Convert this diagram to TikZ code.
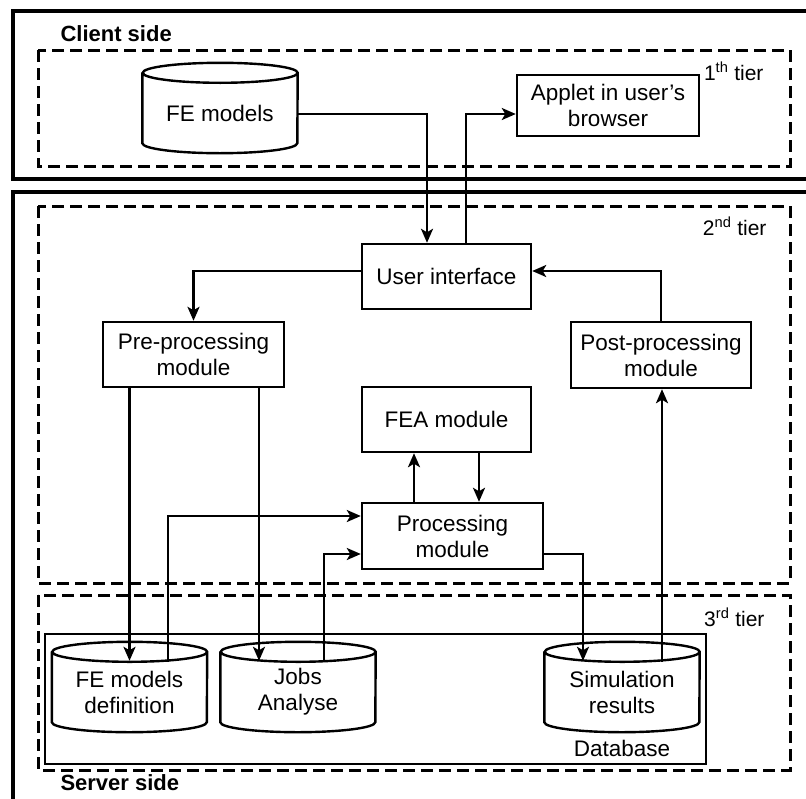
\documentclass[tikz,border=0pt]{standalone}
\usepackage{fontspec}
\setmainfont{Liberation Sans}
\usetikzlibrary{arrows.meta}
\usetikzlibrary{positioning}
\usetikzlibrary{calc}
\tikzset{
  module/.style={draw, line width=2.4pt, align=center, inner sep=0pt},
  store/.style={inner sep=0pt, minimum width=155pt, minimum height=90pt, align=center},
  sidebox/.style={draw, line width=4.5pt},
  tierbox/.style={draw, line width=3pt, dash pattern=on 12pt off 6pt},
  side/.style={font=\fontsize{22}{26}\bfseries\selectfont},
  tier/.style={font=\fontsize{21}{26}\selectfont},
  flow/.style={->, line width=2.6pt}
}
% outline of a database drum round a store node (text sits 5pt low)
\newcommand{\drum}[1]{%
  \draw[line width=2.4pt] ([yshift=-5pt]#1.north west) -- ([yshift=15pt]#1.south west)
    arc[start angle=180, end angle=360, x radius=77.5pt, y radius=10pt]
    -- ([yshift=-5pt]#1.north east)
    arc[start angle=0, end angle=360, x radius=77.5pt, y radius=10pt];}

\begin{document}
\begin{tikzpicture}[x=1pt, y=1pt, >={Stealth[length=14pt, width=12pt, inset=3.5pt]},
    every node/.style={font=\fontsize{22.5}{26}\selectfont}]
        \useasboundingbox (0,0) rectangle (806,-798);
        \clip (0,0) rectangle (806,-798);

        % sides and tiers
        \draw[sidebox] (13,-11) rectangle (830,-179);
        \draw[sidebox] (13,-192) rectangle (830,-830);
        \draw[tierbox] (38,-50) rectangle (790,-166);
        \draw[tierbox] (38,-206) rectangle (790,-583);
        \draw[tierbox] (38,-595) rectangle (790,-770);
        \draw[line width=1.8pt] (45,-634) rectangle (706,-764);

        \node[side, anchor=west] (cs) at (57,-34) {Client side};
        \node[side, anchor=west] (ss) at (57,-783) {Server side};
        \node[tier, anchor=base east] (t1) at (767,-80) {1\textsuperscript{th} tier};
        \node[tier, anchor=base east] (t2) at (770,-235) {2\textsuperscript{nd} tier};
        \node[tier, anchor=base east] (t3) at (768,-626) {3\textsuperscript{rd} tier};
        \node (db) at (622,-748) {Database};

        % modules
        \node[store] (fem) at (220,-113) {FE models};
        \node[module, minimum width=182pt, minimum height=61pt] (applet) at (608,-105.5) {Applet in user’s\\browser};
        \node[module, minimum width=169pt, minimum height=65pt] (ui) at (446.5,-276.5) {User interface};
        \node[module, minimum width=181pt, minimum height=65pt] (pre) at (193.5,-354.5) {Pre-processing\\module};
        \node[module, minimum width=180pt, minimum height=66pt] (post) at (661,-355) {Post-processing\\module};
        \node[module, minimum width=169pt, minimum height=65pt] (fea) at (446.5,-419.5) {FEA module};
        \node[module, minimum width=181pt, minimum height=66pt] (proc) at (452.5,-536) {Processing\\module};
        \node[store] (fmd) at (129.5,-692) {FE models\\definition};
        \node[store] (jobs) at (298,-692) {Jobs\\Analyse};
        \node[store] (sim) at (622,-692) {Simulation\\results};
        \drum{fem}
        \drum{fmd}
        \drum{jobs}
        \drum{sim}

        \coordinate (fmdin) at ([yshift=-14pt]fmd.north);
        \coordinate (fmdout) at ([xshift=38.5pt, yshift=-15pt]fmd.north);
        \coordinate (jobsin) at ([xshift=-39pt, yshift=-14pt]jobs.north);
        \coordinate (jobsout) at ([xshift=26pt, yshift=-15pt]jobs.north);
        \coordinate (simin) at ([xshift=-39pt, yshift=-14pt]sim.north);
        \coordinate (simout) at ([xshift=40pt, yshift=-15pt]sim.north);

        \draw[flow] ([yshift=-1pt]fem.east) -| ([xshift=-19.5pt]ui.north);
        \draw[flow] ([xshift=19.5pt]ui.north) |- ([yshift=-8.5pt]applet.west);

        \draw[flow] ([yshift=5.5pt]ui.west) -| (pre.north);
        \draw[flow] (post.north) |- ([yshift=5.5pt]ui.east);

        \draw[flow] (pre.south -| fmdin) -- (fmdin);
        \draw[flow] (pre.south -| jobsin) -- (jobsin);

        \draw[flow] ([xshift=-38.5pt]proc.north) -- ([xshift=-32.5pt]fea.south);
        \draw[flow] ([xshift=32.5pt]fea.south) -- ([xshift=26.5pt]proc.north);

        \draw[flow] (fmdout) |- ([yshift=20pt]proc.west);
        \draw[flow] (jobsout) |- ([yshift=-18pt]proc.west);
        \draw[flow] ([yshift=-18pt]proc.east) -| (simin);
        \draw[flow] (simout) -- (simout |- post.south);

    \end{tikzpicture}
\end{document}
